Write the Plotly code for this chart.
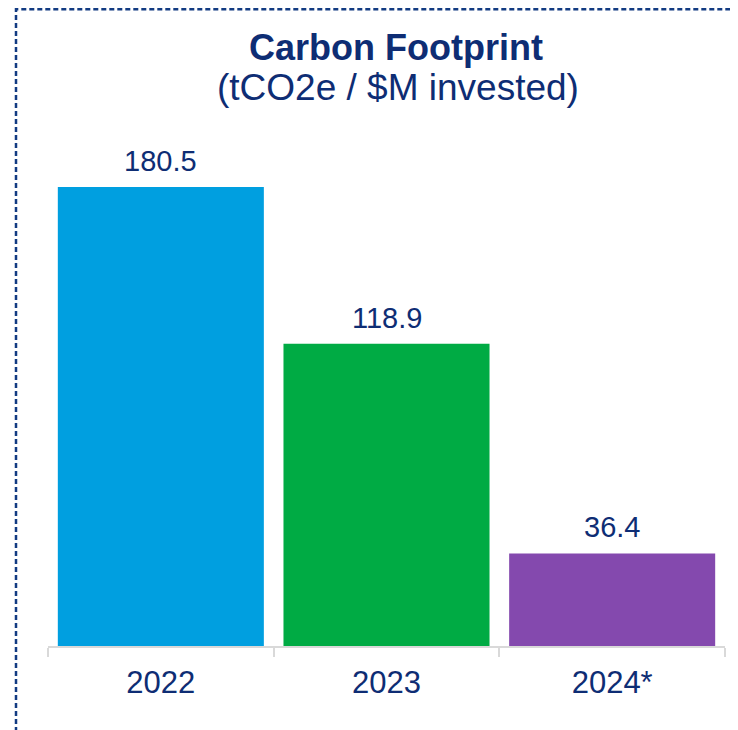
import plotly.graph_objects as go

categories = ["2022", "2023", "2024*"]
values = [180.5, 118.9, 36.4]
value_labels = ["180.5", "118.9", "36.4"]
bar_colors = ["#009FE0", "#00AB44", "#8449AE"]
title_text = "Carbon Footprint"
subtitle_text = "(tCO2e / $M invested)"

NAVY = "#0E2D74"
W, H = 738, 730
OFF = 8  # page body offset
L, R = 48 - OFF, W - (725 - OFF)
B = H - (646 - OFF)
T = H - B - 516
pw, ph = W - L - R, H - T - B

def px_x(x):
    return (x - OFF - L) / pw

def px_y(y):
    return (H - B - (y - OFF)) / ph

fig = go.Figure(go.Bar(
    x=categories, y=values, marker_color=bar_colors, marker_line_width=0,
    hoverinfo="skip",
))

for i, (v, t) in enumerate(zip(values, value_labels)):
    fig.add_annotation(x=i, y=v, text=t, showarrow=False, yanchor="bottom",
                       yshift=8, font=dict(size=29, color=NAVY, family="Liberation Sans, Arial"))

fig.add_annotation(xref="paper", yref="paper", x=px_x(396), y=px_y(48), text="<b>" + title_text + "</b>",
                   showarrow=False, xanchor="center", yanchor="middle",
                   font=dict(size=36, color=NAVY, family="Liberation Sans, Arial"))
fig.add_annotation(xref="paper", yref="paper", x=px_x(398), y=px_y(87), text=subtitle_text,
                   showarrow=False, xanchor="center", yanchor="middle",
                   font=dict(size=37, color=NAVY, family="Liberation Sans, Arial"))

fig.add_shape(type="path", xref="paper", yref="paper",
              path=f"M {px_x(16)},{px_y(740)} L {px_x(16)},{px_y(OFF + 1.3)} L {px_x(750)},{px_y(OFF + 1.3)}",
              line=dict(color="#123B82", width=2.5, dash="5px,3px"))

fig.update_layout(
    width=W, height=H, margin=dict(l=L, r=R, t=T, b=B),
    paper_bgcolor="white", plot_bgcolor="white",
    bargap=0.087, showlegend=False,
    font=dict(family="Liberation Sans, Arial", color=NAVY),
)
fig.update_xaxes(type="category", range=[-0.5, len(categories) - 0.5], automargin=False,
                 showline=True, linecolor="#D9D9D9", linewidth=2,
                 ticks="outside", tickson="boundaries", ticklen=9, tickwidth=2, tickcolor="#D9D9D9",
                 ticklabelstandoff=8,
                 tickfont=dict(size=31, color=NAVY), showgrid=False, tickangle=0)
fig.update_yaxes(visible=False, range=[0, ph / (459 / 180.5)], showgrid=False, automargin=False)

fig.write_html("out.html")
